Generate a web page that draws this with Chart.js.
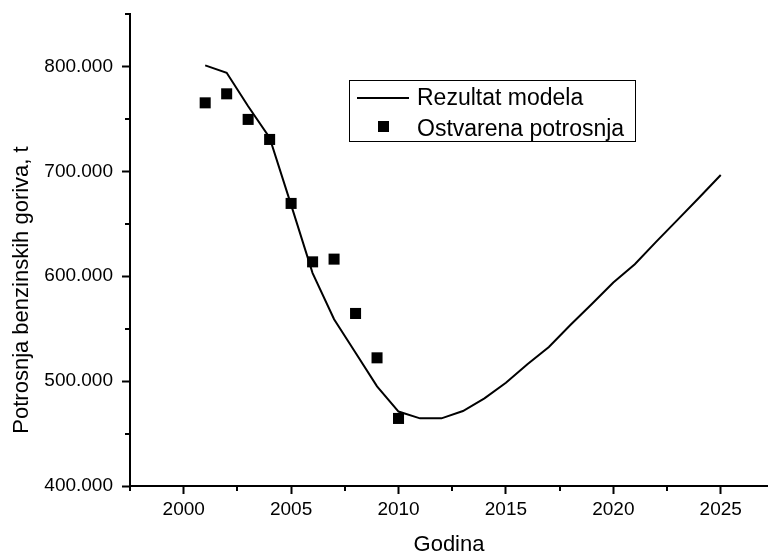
<!DOCTYPE html>
<html lang="sr">
<head>
<meta charset="UTF-8">
<title>Potrosnja benzinskih goriva</title>
<script src="https://cdn.jsdelivr.net/npm/chart.js@4.4.1/dist/chart.umd.min.js"></script>
<style>
  html, body { margin: 0; padding: 0; background: #fff; }
  #wrap { width: 768px; height: 553px; position: relative; }
</style>
</head>
<body>
<div id="wrap"><canvas id="chart"></canvas></div>
<script>
// model output, yearly
const modelYears = [2001, 2002, 2003, 2004, 2005, 2006, 2007, 2008, 2009, 2010, 2011, 2012, 2013,
                    2014, 2015, 2016, 2017, 2018, 2019, 2020, 2021, 2022, 2023, 2024, 2025];
const modelValues = [801000, 794000, 762000, 732000, 668000, 603000, 559000, 527000, 495000, 471000,
                     464500, 464500, 471500, 483500, 498500, 516000, 532500, 553500, 573500, 594000,
                     611500, 633000, 654000, 675000, 696500];

// recorded consumption
const actualYears = [2001, 2002, 2003, 2004, 2005, 2006, 2007, 2008, 2009, 2010];
const actualValues = [765300, 773900, 749500, 730400, 669400, 613700, 616300, 564500, 522200, 464400];

const xTicks = [2000, 2005, 2010, 2015, 2020, 2025];
const xMinorTicks = [1997.5, 2002.5, 2007.5, 2012.5, 2017.5, 2022.5];
const yTicks = [400000, 500000, 600000, 700000, 800000];
const yMinorTicks = [450000, 550000, 650000, 750000, 850000];

const labelModel = 'Rezultat modela';
const labelActual = 'Ostvarena potrosnja';
const xTitle = 'Godina';
const yTitle = 'Potrosnja benzinskih goriva, t';

const FONT = '"Liberation Sans", Arial, sans-serif';

function fmt(v) {
  return String(v).replace(/\B(?=(\d{3})+(?!\d))/g, '.');
}

// minor ticks, axis titles and the boxed legend
const extras = {
  id: 'extras',
  afterDraw(chart) {
    const ctx = chart.ctx;
    const xs = chart.scales.x, ys = chart.scales.y;
    const area = chart.chartArea;
    ctx.save();
    ctx.strokeStyle = '#000';
    ctx.lineWidth = 2;
    ctx.beginPath();
    xMinorTicks.forEach(v => {
      const px = Math.round(xs.getPixelForValue(v));
      if (px < area.left - 1 || px > area.right) return;
      ctx.moveTo(px, area.bottom);
      ctx.lineTo(px, area.bottom + 5);
    });
    yMinorTicks.forEach(v => {
      const py = Math.round(ys.getPixelForValue(v));
      ctx.moveTo(area.left, py);
      ctx.lineTo(area.left - 5, py);
    });
    ctx.stroke();

    // axis titles
    ctx.fillStyle = '#000';
    ctx.font = '22px ' + FONT;
    ctx.textAlign = 'center';
    ctx.textBaseline = 'alphabetic';
    ctx.fillText(xTitle, (area.left + area.right) / 2, 551);
    ctx.save();
    ctx.translate(22, 290);
    ctx.rotate(-Math.PI / 2);
    ctx.textBaseline = 'middle';
    ctx.fillText(yTitle, 0, 0);
    ctx.restore();

    // legend
    const lx = 349, ly = 80, lw = 286, lh = 61;
    ctx.lineWidth = 1;
    ctx.strokeStyle = '#000';
    ctx.strokeRect(lx + 0.5, ly + 0.5, lw, lh);
    const dsLine = chart.data.datasets[0];
    const dsPts = chart.data.datasets[1];
    ctx.lineWidth = 2;
    ctx.beginPath();
    ctx.moveTo(357, 98);
    ctx.lineTo(409, 98);
    ctx.strokeStyle = dsLine.borderColor;
    ctx.stroke();
    ctx.fillStyle = dsPts.backgroundColor;
    ctx.fillRect(378, 121, 11, 11);
    ctx.fillStyle = '#000';
    ctx.font = '23px ' + FONT;
    ctx.textAlign = 'left';
    ctx.textBaseline = 'alphabetic';
    ctx.fillText(dsLine.label, 417, 105);
    ctx.fillText(dsPts.label, 417, 136);
    ctx.restore();
  }
};

new Chart(document.getElementById('chart'), {
  type: 'scatter',
  data: {
    datasets: [
      {
        label: labelModel,
        data: modelYears.map((y, i) => ({ x: y, y: modelValues[i] })),
        showLine: true,
        borderColor: '#000',
        borderWidth: 2,
        pointRadius: 0,
        tension: 0
      },
      {
        label: labelActual,
        data: actualYears.map((y, i) => ({ x: y, y: actualValues[i] })),
        showLine: false,
        pointStyle: 'rect',
        pointRadius: 7.8,
        borderWidth: 0,
        backgroundColor: '#000'
      }
    ]
  },
  options: {
    responsive: true,
    maintainAspectRatio: false,
    animation: false,
    layout: { autoPadding: false, padding: { top: 14, right: 0, left: 0, bottom: 0 } },
    plugins: { legend: { display: false }, tooltip: { enabled: false } },
    scales: {
      x: {
        type: 'linear',
        min: 1997.5,
        max: 2027.2,
        afterBuildTicks: s => { s.ticks = xTicks.map(v => ({ value: v })); },
        afterFit: s => { s.height = 67; s.paddingLeft = 0; s.paddingRight = 0; },
        border: { display: true, color: '#000', width: 2 },
        grid: { drawOnChartArea: false, drawTicks: true, tickLength: 8, tickWidth: 2, tickColor: '#000' },
        ticks: { color: '#000', font: { family: FONT, size: 19 }, padding: 4, maxRotation: 0,
                 callback: v => String(v) }
      },
      y: {
        type: 'linear',
        min: 400000,
        max: 850000,
        afterBuildTicks: s => { s.ticks = yTicks.map(v => ({ value: v })); },
        afterFit: s => { s.width = 130; s.paddingTop = 0; s.paddingBottom = 0; },
        border: { display: true, color: '#000', width: 2 },
        grid: { drawOnChartArea: false, drawTicks: true, tickLength: 8, tickWidth: 2, tickColor: '#000' },
        ticks: { color: '#000', font: { family: FONT, size: 19 }, padding: 9,
                 callback: v => fmt(v) }
      }
    }
  },
  plugins: [extras]
});
</script>
</body>
</html>
